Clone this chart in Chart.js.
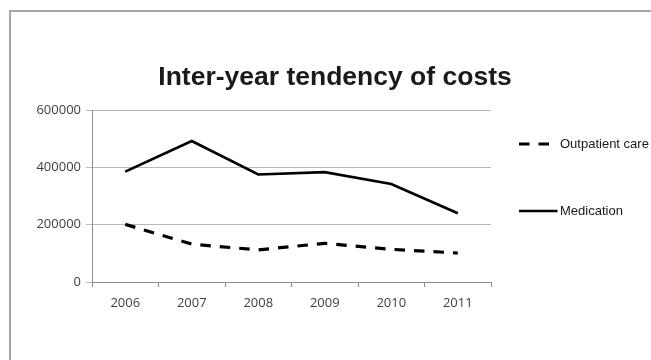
<!DOCTYPE html>
<html>
<head>
<meta charset="utf-8">
<script src="https://cdn.jsdelivr.net/npm/chart.js@4/dist/chart.umd.min.js"></script>
<style>
  html, body { margin: 0; padding: 0; background: #ffffff; }
  #wrap { position: relative; width: 651px; height: 360px; }
</style>
</head>
<body>
<div id="wrap"><canvas id="costChart" width="651" height="360"></canvas></div>
<script>
// Chart data
const years = ["2006", "2007", "2008", "2009", "2010", "2011"];
const outpatientCare = [201000, 132000, 112000, 135000, 114000, 101000];
const medication = [385000, 492000, 375000, 383000, 342000, 240000];
const yTicks = [0, 200000, 400000, 600000];
const chartTitle = "Inter-year tendency of costs";

const TICK_FONT = { family: "'Open Sans', 'DejaVu Sans', sans-serif", size: 13 };
const TICK_COLOR = '#404040';
const GRID_COLOR = '#b8b8b8';
const AXIS_COLOR = '#8c8c8c';

// Frame, title and legend drawn like the spreadsheet chart
const decorPlugin = {
    id: 'decor',
    beforeDraw(chart) {
        const ctx = chart.ctx;
        ctx.save();
        ctx.strokeStyle = '#a6a6a6';
        ctx.lineWidth = 2;
        ctx.beginPath();
        ctx.moveTo(10, chart.height);
        ctx.lineTo(10, 11);
        ctx.lineTo(chart.width, 11);
        ctx.stroke();
        ctx.restore();
    },
    afterDraw(chart) {
        const ctx = chart.ctx;
        const area = chart.chartArea;
        ctx.save();

        // title
        ctx.fillStyle = '#1a1a1a';
        ctx.font = "bold 26.5px 'Liberation Sans', Arial, sans-serif";
        ctx.textAlign = 'center';
        ctx.textBaseline = 'alphabetic';
        ctx.fillText(chartTitle, 335, 85);

        // legend
        ctx.font = "13px 'Liberation Sans', Arial, sans-serif";
        ctx.textAlign = 'left';
        ctx.textBaseline = 'middle';
        chart.data.datasets.forEach(function(ds, i) {
            const y = area.top + 34 + i * 67;
            const x = area.right + 28;
            ctx.save();
            ctx.strokeStyle = ds.borderColor;
            ctx.lineWidth = ds.borderWidth;
            ctx.lineCap = 'butt';
            ctx.setLineDash(ds.borderDash || []);
            ctx.beginPath();
            ctx.moveTo(x, y);
            ctx.lineTo(x + 38.5, y);
            ctx.stroke();
            ctx.restore();
            ctx.fillText(ds.label, x + 41, y);
        });
        ctx.restore();
    }
};

const ctx = document.getElementById("costChart");
new Chart(ctx, {
    type: "line",
    data: {
        labels: years,
        datasets: [
            {
                label: "Outpatient care",
                data: outpatientCare,
                borderColor: '#000000',
                borderWidth: 3.2,
                borderDash: [10.5, 9],
                borderCapStyle: 'butt',
                pointRadius: 0,
                tension: 0,
                fill: false
            },
            {
                label: "Medication",
                data: medication,
                borderColor: '#000000',
                borderWidth: 2.7,
                pointRadius: 0,
                tension: 0,
                fill: false
            }
        ]
    },
    options: {
        responsive: false,
        animation: false,
        devicePixelRatio: 1,
        layout: { padding: { left: 0, top: 110, right: 160, bottom: 0 } },
        plugins: {
            legend: { display: false },
            title: { display: false },
            tooltip: { enabled: false }
        },
        scales: {
            x: {
                offset: true,
                grid: {
                    offset: true,
                    drawOnChartArea: false,
                    drawTicks: true,
                    tickLength: 5,
                    color: AXIS_COLOR
                },
                border: { color: AXIS_COLOR, width: 1 },
                ticks: { font: TICK_FONT, color: TICK_COLOR, padding: 8, maxRotation: 0 },
                afterFit(scale) { scale.height = 78; }
            },
            y: {
                min: 0,
                max: 600000,
                afterBuildTicks(scale) { scale.ticks = yTicks.map(v => ({ value: v })); },
                grid: { color: GRID_COLOR, tickLength: 6 },
                border: { color: AXIS_COLOR, width: 1 },
                ticks: {
                    font: TICK_FONT,
                    color: TICK_COLOR,
                    padding: 5,
                    callback: value => String(value)
                },
                afterFit(scale) { scale.width = 92; }
            }
        }
    },
    plugins: [decorPlugin]
});
</script>
</body>
</html>
